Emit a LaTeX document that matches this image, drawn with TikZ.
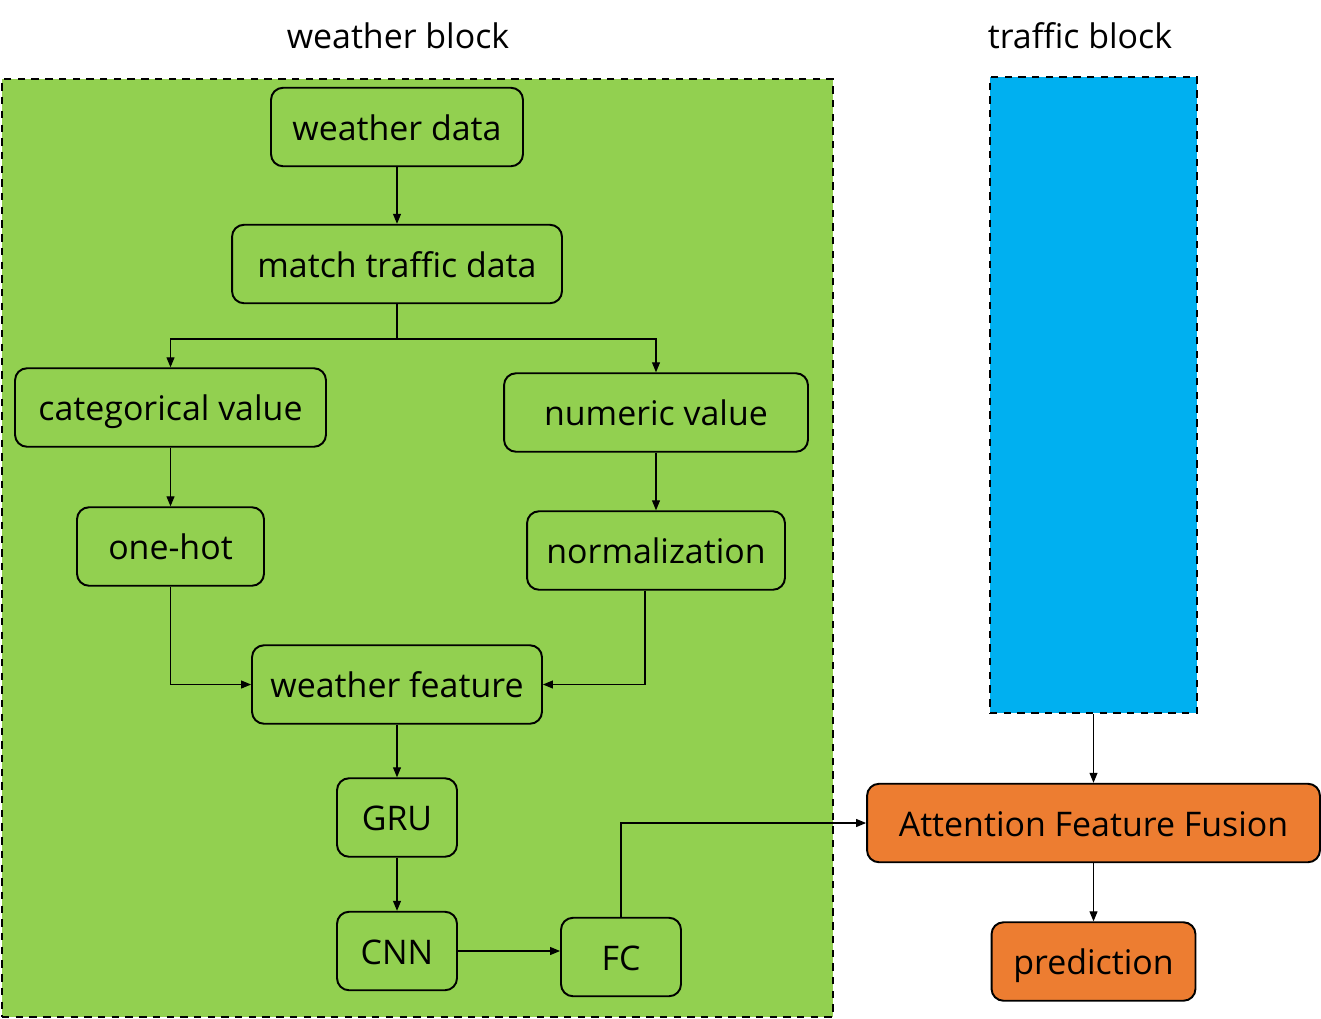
\documentclass[tikz,border=0pt]{standalone}
\usepackage{fontspec}
\setmainfont{Open Sans}
\usepackage{tikz}
\usetikzlibrary{arrows.meta}
\definecolor{wgreen}{HTML}{92D050}
\definecolor{tblue}{HTML}{00B0F0}
\definecolor{forange}{HTML}{ED7D31}
\tikzstyle{gbox} = [draw, line width=1.1pt, rounded corners=0.24cm, fill=wgreen, minimum height=1.57cm, inner sep=0pt, text height=0.62cm, text depth=0.1cm]
\tikzstyle{obox} = [gbox, fill=forange]
\tikzstyle{blk} = [draw, line width=1.25pt, dash pattern=on 4.2pt off 3.6pt, inner sep=0pt]

\begin{document}
\begin{tikzpicture}[x=0.02cm, y=-0.02cm, >={Triangle[length=2mm,width=1.6mm]}, line width=0.6pt]
  \tikzstyle{every node}=[font=\fontsize{19.3}{23}\selectfont]
  \useasboundingbox (0,0) rectangle (1321,1018);
  % blocks
  \node[blk, fill=wgreen, minimum width=16.62cm, minimum height=18.76cm] (wblock) at (417.5,548) {};
  \node[blk, fill=tblue, minimum width=4.14cm, minimum height=12.72cm] (tblock) at (1093.5,395) {};
  \node (wtitle) at (398,36) {weather block};
  \node (ttitle) at (1080,36) {traffic block};

  % weather block
  \node[gbox, minimum width=5.04cm] (wdata) at (397,127) {weather data};
  \node[gbox, minimum width=6.6cm] (match) at (397,264) {match traffic data};
  \node[gbox, minimum width=6.22cm] (cat) at (170.5,407.5) {categorical value};
  \node[gbox, minimum width=6.08cm] (num) at (656,412.5) {numeric value};
  \node[gbox, minimum width=3.74cm] (onehot) at (170.5,546.5) {one-hot};
  \node[gbox, minimum width=5.16cm] (norm) at (656,550.5) {normalization};
  \node[gbox, minimum width=5.8cm] (wfeat) at (397,684.5) {weather feature};
  \node[gbox, minimum width=2.4cm] (gru) at (397,817.5) {GRU};
  \node[gbox, minimum width=2.4cm] (cnn) at (397,951) {CNN};
  \node[gbox, minimum width=2.4cm] (fc) at (621,957) {FC};
  \coordinate (split) at (397,339);

  % fusion
  \node[obox, minimum width=9.06cm] (att) at (1093.5,823) {Attention Feature Fusion};
  \node[obox, minimum width=4.08cm] (pred) at (1093.5,961.5) {prediction};

  \draw[->] (wdata) -- (match);
  \draw (match.south) -- (split);
  \draw[->] (split) -| (cat.north);
  \draw[->] (split) -| (num.north);
  \draw[->] (cat) -- (onehot);
  \draw[->] (num) -- (norm);
  \draw[->] (onehot.south) |- (wfeat.west);
  \draw[->] ([xshift=-0.22cm]norm.south) |- (wfeat.east);
  \draw[->] (wfeat) -- (gru);
  \draw[->] (gru) -- (cnn);
  \draw[->] (cnn.east) -- (cnn.east -| fc.west);
  \draw[->] (fc.north) |- (att.west);
  \draw[->] (tblock.south) -- (att.north);
  \draw[->] (att) -- (pred);
\end{tikzpicture}
\end{document}
